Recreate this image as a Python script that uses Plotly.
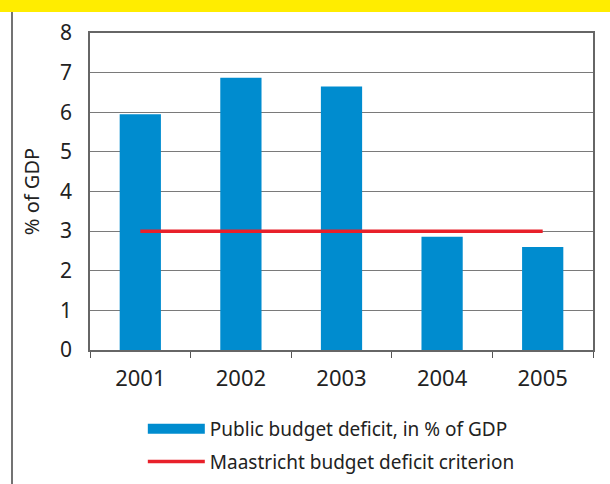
import plotly.graph_objects as go

years = ["2001", "2002", "2003", "2004", "2005"]
deficit = [5.95, 6.87, 6.65, 2.86, 2.6]
criterion = [3, 3, 3, 3, 3]
yticks = [0, 1, 2, 3, 4, 5, 6, 7, 8]

BLUE = "#008CCF"
RED = "#E8202A"
FONT = "Noto Sans"

fig = go.Figure()
fig.add_trace(go.Bar(x=years, y=deficit, marker=dict(color=BLUE, line=dict(width=0)),
                     showlegend=False, width=0.41))
# legend proxy for bar series (wide swatch)
fig.add_trace(go.Scatter(x=[None], y=[None], mode="lines",
                         line=dict(color=BLUE, width=18), legendgroup="a",
                         name="Public budget deficit, in % of GDP"))
fig.add_trace(go.Scatter(x=years, y=criterion, mode="lines",
                         line=dict(color=RED, width=3.5), legendgroup="b",
                         name="Maastricht budget deficit criterion"))

fig.update_layout(
    width=610, height=484,
    margin=dict(l=90, r=17, t=33, b=134),
    paper_bgcolor="white", plot_bgcolor="white",
    font=dict(family=FONT, size=18, color="#222"),
    xaxis=dict(type="category", tickson="boundaries", ticks="outside", ticklen=6,
               tickcolor="#555", showline=True, linecolor="#666", linewidth=1.5,
               mirror=True, showgrid=False, tickfont=dict(size=22),
               ticklabelstandoff=8),
    yaxis=dict(range=[0, 8], tickvals=yticks, showline=True, linecolor="#666",
               linewidth=1.5, mirror=True, gridcolor="#7a7a7a", gridwidth=1.2,
               ticks="", tickfont=dict(size=21), zeroline=False,
               ticklabelstandoff=12,
               title=dict(text="% of GDP", font=dict(size=20), standoff=15)),
    legend=dict(x=0.105, y=1 - 410 / 484, xref="paper", yref="container",
                xanchor="left", yanchor="top",
                itemwidth=57, traceorder="grouped", tracegroupgap=5,
                font=dict(size=19), bgcolor="rgba(0,0,0,0)"),
    bargap=0.59,
    shapes=[
        dict(type="rect", xref="paper", yref="paper", x0=-90/503, x1=1 + 17/503,
             y0=1 + 21/317, y1=1 + 33/317, fillcolor="#FFED00", line=dict(width=0)),
        dict(type="line", xref="paper", yref="paper", x0=-78/503, x1=-78/503,
             y0=-134/317, y1=1 + 21/317, line=dict(color="#444", width=1.5)),
    ],
)

fig.write_html("out.html")
